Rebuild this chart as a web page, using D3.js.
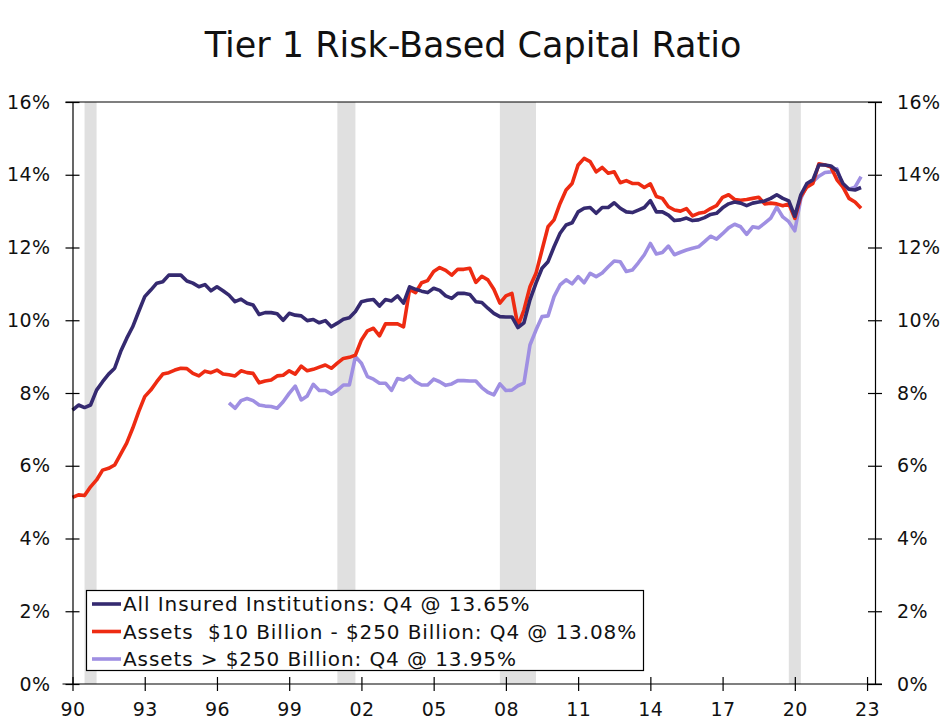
<!DOCTYPE html>
<html>
<head>
<meta charset="utf-8">
<script src="https://cdn.jsdelivr.net/npm/d3@7"></script>
<style>
  html, body { margin: 0; padding: 0; background: #fff; }
  svg { display: block; }
  text { font-family: "DejaVu Sans", Verdana, sans-serif; fill: #111; }
</style>
</head>
<body>
<svg id="chart" width="947" height="727"></svg>
<script>
// ---- Data (quarterly, starting 1990 Q1) ----
const startYear = 1990;
const allInsured = [
  7.53, 7.67, 7.60, 7.67,   8.08, 8.31, 8.52, 8.68,   9.14, 9.50, 9.82, 10.24,
  10.65, 10.83, 11.02, 11.06, 11.24, 11.24, 11.24, 11.08, 11.02, 10.92, 10.98, 10.81,
  10.92, 10.81, 10.69, 10.51, 10.58, 10.47, 10.42, 10.16, 10.21, 10.21, 10.18, 10.00,
  10.19, 10.14, 10.12, 9.99,  10.02, 9.93, 9.99, 9.82,   9.92, 10.03, 10.07, 10.24,
  10.51, 10.55, 10.57, 10.39, 10.57, 10.53, 10.67, 10.47, 10.92, 10.85, 10.80, 10.76,
  10.88, 10.82, 10.67, 10.60, 10.74, 10.74, 10.71, 10.51, 10.49, 10.33, 10.19, 10.10,
  10.09, 10.09, 9.80, 9.93,  10.56, 11.02, 11.43, 11.61, 12.02, 12.39, 12.62, 12.68,
  12.98, 13.08, 13.10, 12.94, 13.10, 13.10, 13.23, 13.08, 12.98, 12.96, 13.03, 13.10,
  13.29, 12.98, 12.98, 12.89, 12.74, 12.76, 12.81, 12.74, 12.76, 12.82, 12.91, 12.94,
  13.09, 13.20, 13.25, 13.22, 13.15, 13.22, 13.25, 13.28, 13.35, 13.45, 13.35, 13.28,
  12.86, 13.45, 13.76, 13.86, 14.27, 14.27, 14.24, 14.11, 13.76, 13.60, 13.58, 13.65
];
const assets10to250 = [
  5.13, 5.20, 5.18, 5.42,   5.61, 5.88, 5.93, 6.02,   6.32, 6.62, 7.03, 7.49,
  7.90, 8.08, 8.31, 8.52,   8.56, 8.63, 8.68, 8.67,   8.54, 8.47, 8.60, 8.56,
  8.63, 8.52, 8.50, 8.47,   8.61, 8.56, 8.54, 8.28,   8.33, 8.36, 8.47, 8.49,
  8.61, 8.52, 8.74, 8.61,   8.65, 8.71, 8.77, 8.68,   8.82, 8.95, 8.98, 9.04,
  9.46, 9.71, 9.78, 9.57,   9.90, 9.90, 9.90, 9.82,   10.85, 10.76, 11.03, 11.09,
  11.34, 11.45, 11.37, 11.24, 11.40, 11.40, 11.43, 11.04, 11.21, 11.11, 10.85, 10.47,
  10.67, 10.74, 9.84, 10.28, 10.92, 11.29, 11.93, 12.57, 12.76, 13.21, 13.58, 13.76,
  14.27, 14.45, 14.36, 14.08, 14.20, 14.04, 14.08, 13.78, 13.84, 13.76, 13.76, 13.65,
  13.75, 13.40, 13.35, 13.12, 13.03, 13.00, 13.07, 12.87, 12.94, 12.97, 13.07, 13.15,
  13.38, 13.45, 13.32, 13.30, 13.32, 13.35, 13.38, 13.20, 13.22, 13.20, 13.15, 13.20,
  12.80, 13.40, 13.66, 13.76, 14.30, 14.27, 14.21, 13.86, 13.66, 13.35, 13.25, 13.08
];
// Starts 1996 Q3
const largeStart = 1996.5;
const assetsOver250 = [
  7.73, 7.58,
  7.79, 7.85, 7.79, 7.67,   7.64, 7.63, 7.58, 7.76,   7.99, 8.19, 7.81, 7.92,
  8.24, 8.07, 8.07, 7.97,   8.07, 8.22, 8.22, 9.00,   8.82, 8.45, 8.38, 8.27,
  8.27, 8.07, 8.40, 8.36,   8.47, 8.31, 8.22, 8.22,   8.38, 8.31, 8.21, 8.25,
  8.34, 8.34, 8.33, 8.33,   8.15, 8.02, 7.95, 8.25,   8.07, 8.08, 8.20, 8.27,
  9.32, 9.73, 10.10, 10.12, 10.65, 10.97, 11.11, 11.00, 11.20, 11.03, 11.29, 11.20,
  11.30, 11.47, 11.63, 11.61, 11.34, 11.38, 11.58, 11.80, 12.11, 11.82, 11.86, 12.04,
  11.80, 11.87, 11.93, 11.98, 12.02, 12.16, 12.31, 12.23, 12.38, 12.54, 12.64, 12.57,
  12.36, 12.57, 12.54, 12.67, 12.81, 13.11, 12.84, 12.71, 12.46, 13.35, 13.71, 13.81,
  13.96, 14.06, 14.08, 14.16, 13.66, 13.60, 13.66, 13.95
];
const recessions = [[1990.5, 1991.0], [2001.0, 2001.75], [2007.75, 2009.25], [2019.75, 2020.25]];
const xTickYears = d3.range(1990, 2024, 3);
const yTicks = [0, 2, 4, 6, 8, 10, 12, 14, 16];
const seriesNames = [
  "All Insured Institutions: Q4 @ 13.65%",
  "Assets  $10 Billion - $250 Billion: Q4 @ 13.08%",
  "Assets > $250 Billion: Q4 @ 13.95%"
];
const colors = ["#352a70", "#ee2b12", "#9f8fe2"];
const titleText = "Tier 1 Risk-Based Capital Ratio";

// ---- Layout ----
const svg = d3.select("#chart");
const L = 72.5, R = 875, T = 102, B = 684;
const x = d3.scaleLinear().domain([1990, 2023.33]).range([L, R]);
const y = d3.scaleLinear().domain([0, 16]).range([B, T]);

// Recession bands
svg.append("g").selectAll("rect").data(recessions).join("rect")
  .attr("x", d => x(d[0])).attr("width", d => x(d[1]) - x(d[0]))
  .attr("y", T).attr("height", B - T)
  .attr("fill", "#e0e0e0");

// Series
const toPts = (arr, start) => arr.map((v, i) => ({ t: start + i / 4, v }));
const series = [
  toPts(allInsured, startYear),
  toPts(assets10to250, startYear),
  toPts(assetsOver250, largeStart)
];
const line = d3.line().x(d => x(d.t)).y(d => y(d.v));
// draw order: lavender, red, navy on top
[2, 1, 0].forEach(k => {
  svg.append("path").datum(series[k])
    .attr("d", line).attr("fill", "none")
    .attr("stroke", colors[k]).attr("stroke-width", 3.6)
    .attr("stroke-linejoin", "round");
});

// Frame top line
svg.append("line").attr("x1", L - 7).attr("x2", R + 7).attr("y1", T).attr("y2", T)
  .attr("stroke", "#000").attr("stroke-width", 1.2);

// Axes
const fmtPct = d => d + "%";
const yl = svg.append("g").attr("transform", `translate(${L},0)`)
  .call(d3.axisLeft(y).tickValues(yTicks).tickFormat(fmtPct).tickSizeInner(7).tickSizeOuter(0).tickPadding(15));
const yr = svg.append("g").attr("transform", `translate(${R},0)`)
  .call(d3.axisRight(y).tickValues(yTicks).tickFormat(fmtPct).tickSizeInner(7).tickSizeOuter(0).tickPadding(15));
const xa = svg.append("g").attr("transform", `translate(0,${B})`)
  .call(d3.axisBottom(x).tickValues(xTickYears).tickFormat(d => String(d % 100).padStart(2, "0"))
    .tickSizeInner(7).tickSizeOuter(0).tickPadding(12));

// ticks crossing the axis line
yl.selectAll(".tick line").attr("x1", 7);
yr.selectAll(".tick line").attr("x1", -7);
xa.selectAll(".tick line").attr("y1", -7);
[yl, yr, xa].forEach(g => {
  g.select(".domain").attr("stroke", "#000").attr("stroke-width", 1.2);
  g.selectAll(".tick line").attr("stroke", "#000").attr("stroke-width", 1.2);
  g.selectAll(".tick text").style("font-size", "19px").style("letter-spacing", "0.4px")
    .style("font-family", '"DejaVu Sans", Verdana, sans-serif').attr("fill", "#111");
});
xa.select(".domain").attr("d", `M${L - 10},0H${R + 7}`);

// Title
svg.append("text").attr("x", 473).attr("y", 57).attr("text-anchor", "middle")
  .style("font-size", "35px").text(titleText);

// Legend
const lg = svg.append("g");
lg.append("rect").attr("x", 86.5).attr("y", 590.5).attr("width", 557).attr("height", 80)
  .attr("fill", "#fff").attr("stroke", "#000").attr("stroke-width", 1.2);
seriesNames.forEach((name, i) => {
  const cy = 604 + i * 27.5;
  lg.append("line").attr("x1", 92).attr("x2", 121).attr("y1", cy).attr("y2", cy)
    .attr("stroke", colors[i]).attr("stroke-width", 3.6);
  lg.append("text").attr("x", 123).attr("y", cy + 7)
    .style("font-size", "20px").style("letter-spacing", "0.9px").style("white-space", "pre")
    .text(name);
});
</script>
</body>
</html>
